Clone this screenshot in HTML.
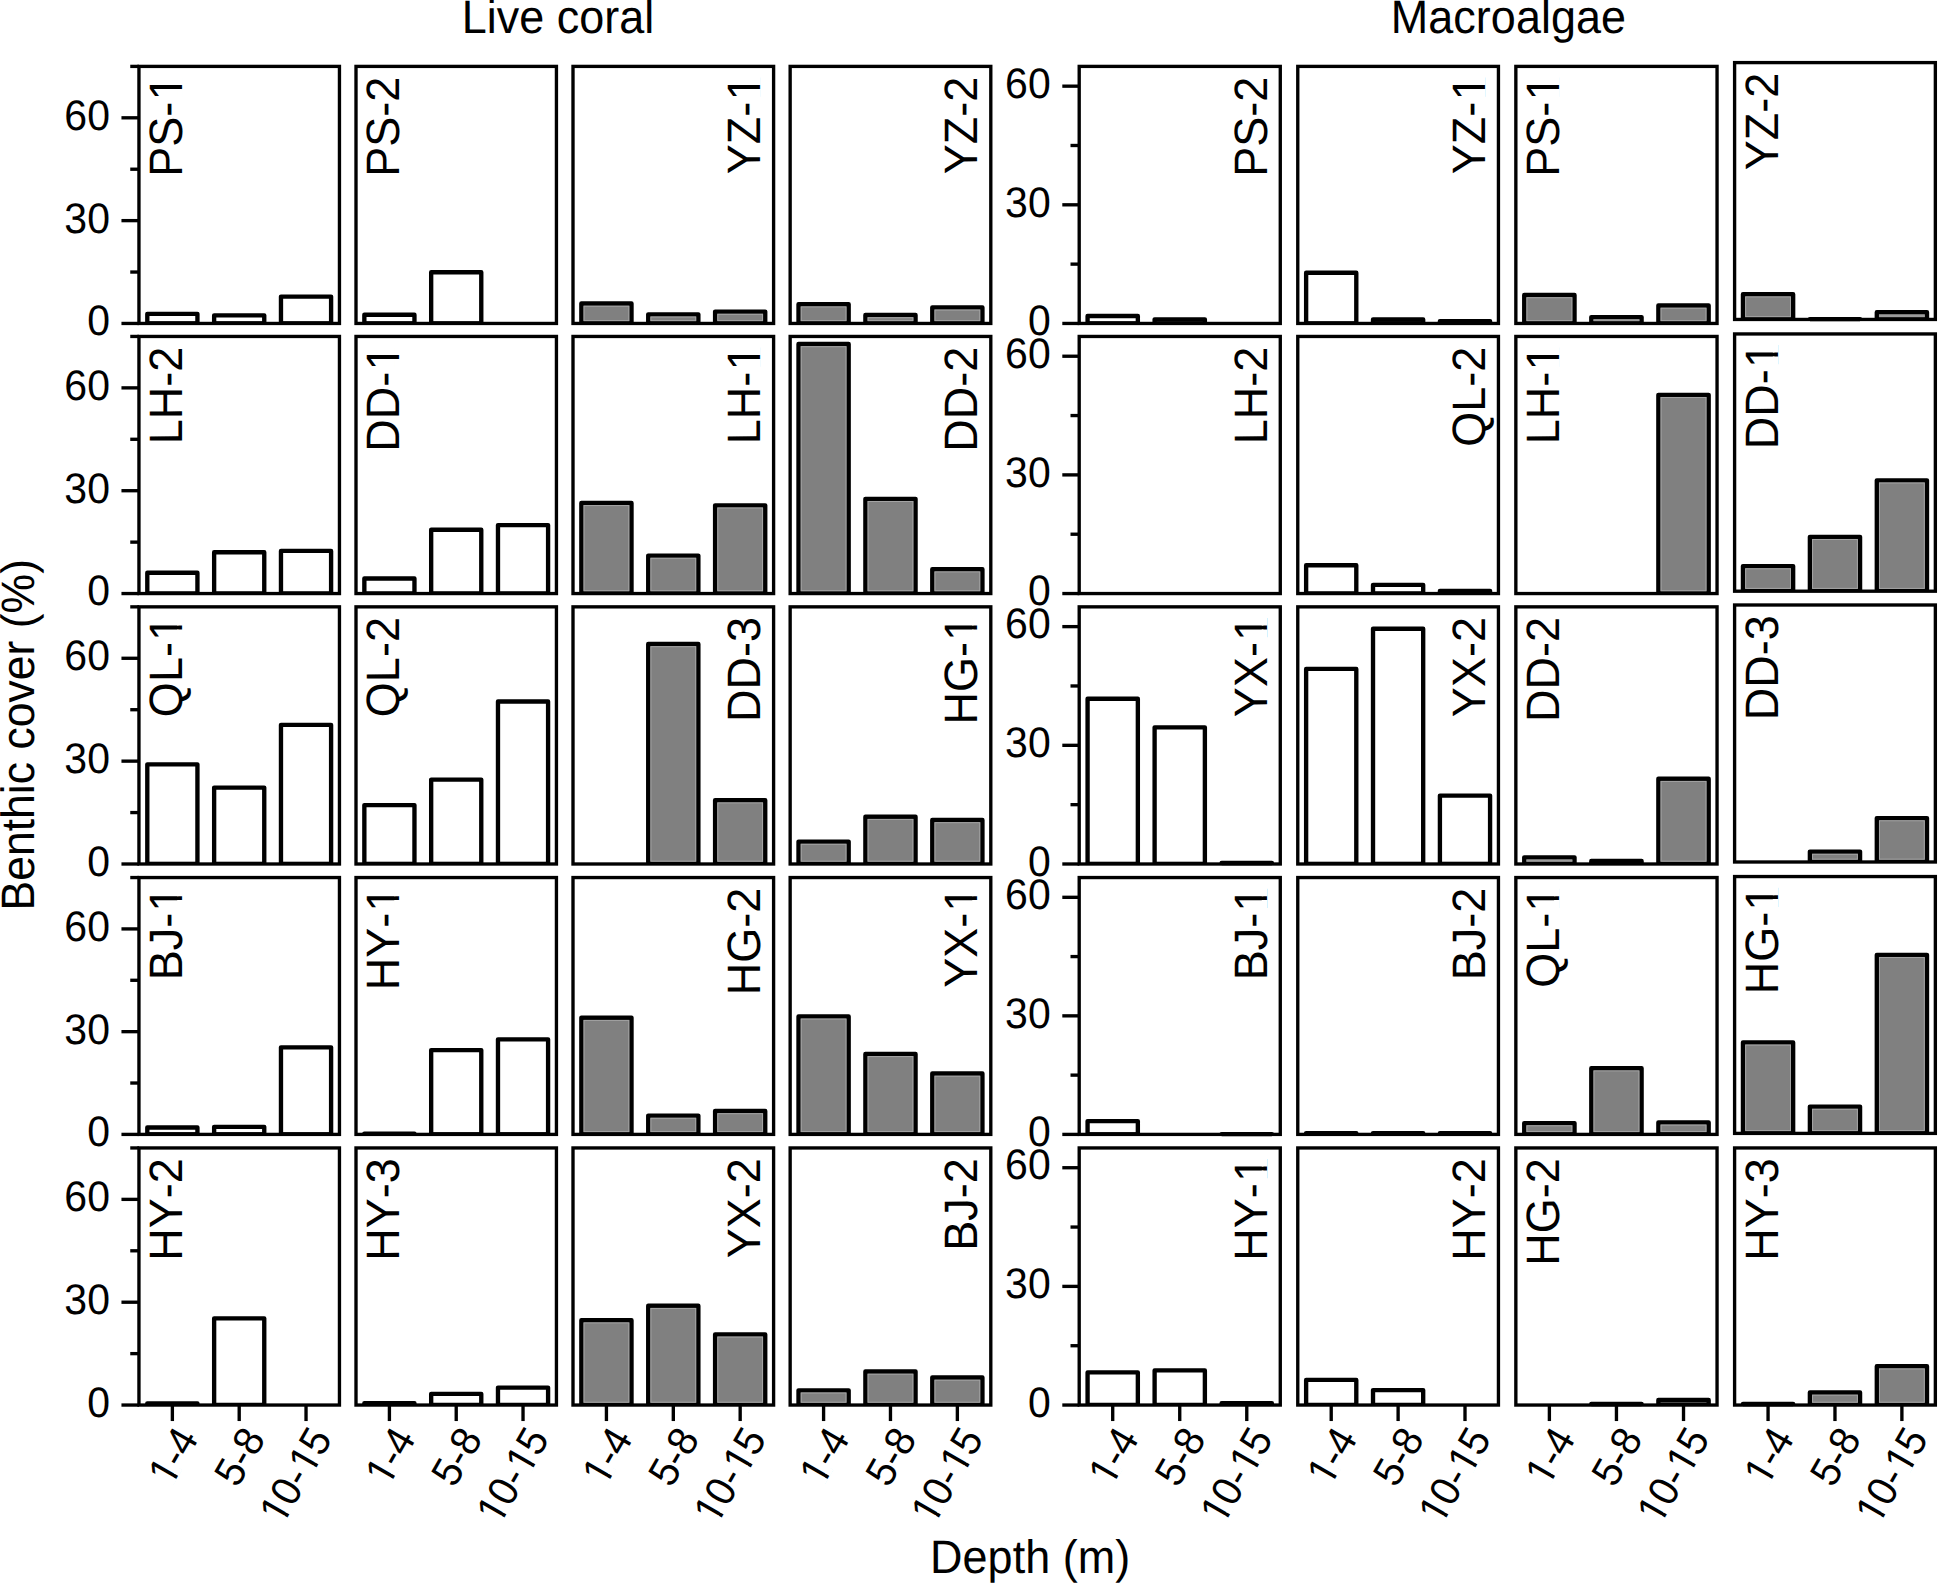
<!DOCTYPE html>
<html lang="en"><head><meta charset="utf-8"><title>Benthic cover by depth</title>
<style>html,body{margin:0;padding:0;background:#fff}svg{display:block}text{font-family:"Liberation Sans",Arial,Helvetica,sans-serif;fill:#000;font-kerning:none;text-rendering:geometricPrecision}.t{font-size:41px}.l{font-size:45px}.x{font-size:40px}.f{fill:none;stroke:#000;stroke-width:3.35;stroke-linecap:butt}.k{stroke:#000;stroke-width:3.35;fill:none}.bw{fill:#fff;stroke:#000;stroke-width:4.35;stroke-linejoin:round}.bg{fill:#808080;stroke:#000;stroke-width:4.35;stroke-linejoin:round}.hl{fill:none;stroke:#a4a4a4;stroke-width:1}</style></head><body>
<svg width="1938" height="1583" viewBox="0 0 1938 1583">
<rect width="1938" height="1583" fill="#fff"/>
<g>
<path class="bw" d="M147.3 323.45V313.8H197.43V323.45"/>
<rect x="147.3" y="321.15" width="50.12" height="2.3" fill="#000"/>
<path class="bw" d="M214.14 323.45V315.3H264.26V323.45"/>
<rect x="214.14" y="321.15" width="50.12" height="2.3" fill="#000"/>
<path class="bw" d="M280.97 323.45V296.6H331.1V323.45"/>
<rect x="280.97" y="321.15" width="50.12" height="2.3" fill="#000"/>
<rect class="f" x="138.95" y="66.4" width="200.5" height="257.05"/>
<line class="k" x1="121.45" y1="323.45" x2="139.05" y2="323.45"/>
<text class="t" transform="translate(109.95 335.35) skewX(0.1) scale(1 1.0405)" x="-22.8">0</text>
<line class="k" x1="130.25" y1="272.04" x2="139.05" y2="272.04"/>
<line class="k" x1="121.45" y1="220.63" x2="139.05" y2="220.63"/>
<text class="t" transform="translate(109.95 232.53) skewX(0.1) scale(1 1.0405)" x="-45.6">30</text>
<line class="k" x1="130.25" y1="169.22" x2="139.05" y2="169.22"/>
<line class="k" x1="121.45" y1="117.81" x2="139.05" y2="117.81"/>
<text class="t" transform="translate(109.95 129.71) skewX(0.1) scale(1 1.0405)" x="-45.6">60</text>
<line class="k" x1="130.25" y1="66.4" x2="139.05" y2="66.4"/>
<g transform="translate(182.05 76.65) rotate(-90) skewX(0.1) scale(1 1.0405)"><text class="l" x="-100.04" dx="0 0 0 1.4">PS-1</text><rect x="-21" y="-4.66" width="8.69" height="5.56" fill="#fff"/><rect x="-8.34" y="-4.66" width="8.34" height="5.56" fill="#fff"/></g>
</g>
<g>
<path class="bw" d="M364.35 323.45V314.7H414.46V323.45"/>
<rect x="364.35" y="321.15" width="50.11" height="2.3" fill="#000"/>
<path class="bw" d="M431.17 323.45V272.2H481.28V323.45"/>
<rect x="431.17" y="321.15" width="50.11" height="2.3" fill="#000"/>
<rect class="f" x="356" y="66.4" width="200.44" height="257.05"/>
<text class="l" transform="translate(399.1 76.65) rotate(-90) skewX(0.1) scale(1 1.0405)" x="-100.04">PS-2</text>
</g>
<g>
<path class="bg" d="M581.36 323.45V303.5H631.51V323.45"/>
<rect x="581.36" y="321.15" width="50.15" height="2.3" fill="#000"/>
<rect class="hl" x="584.03" y="306.18" width="44.8" height="14.47"/>
<path class="bg" d="M648.22 323.45V314.3H698.37V323.45"/>
<rect x="648.22" y="321.15" width="50.15" height="2.3" fill="#000"/>
<rect class="hl" x="650.9" y="316.98" width="44.8" height="3.67"/>
<path class="bg" d="M715.09 323.45V311.6H765.24V323.45"/>
<rect x="715.09" y="321.15" width="50.15" height="2.3" fill="#000"/>
<rect class="hl" x="717.77" y="314.28" width="44.8" height="6.37"/>
<rect class="f" x="573" y="66.4" width="200.6" height="257.05"/>
<g transform="translate(759.9 76.65) rotate(-90) skewX(0.1) scale(1 1.0405)"><text class="l" x="-97.51" dx="0 0 0 1.4">YZ-1</text><rect x="-21" y="-4.66" width="8.69" height="5.56" fill="#fff"/><rect x="-8.34" y="-4.66" width="8.34" height="5.56" fill="#fff"/></g>
</g>
<g>
<path class="bg" d="M798.51 323.45V304.2H848.67V323.45"/>
<rect x="798.51" y="321.15" width="50.16" height="2.3" fill="#000"/>
<rect class="hl" x="801.19" y="306.88" width="44.81" height="13.77"/>
<path class="bg" d="M865.39 323.45V315H915.56V323.45"/>
<rect x="865.39" y="321.15" width="50.16" height="2.3" fill="#000"/>
<rect class="hl" x="868.07" y="317.68" width="44.81" height="2.97"/>
<path class="bg" d="M932.28 323.45V307.4H982.44V323.45"/>
<rect x="932.28" y="321.15" width="50.16" height="2.3" fill="#000"/>
<rect class="hl" x="934.95" y="310.07" width="44.81" height="10.58"/>
<rect class="f" x="790.15" y="66.4" width="200.65" height="257.05"/>
<text class="l" transform="translate(977.1 76.65) rotate(-90) skewX(0.1) scale(1 1.0405)" x="-97.51">YZ-2</text>
</g>
<g>
<path class="bw" d="M1087.58 323.45V316H1137.85V323.45"/>
<rect x="1087.58" y="321.15" width="50.27" height="2.3" fill="#000"/>
<path class="bw" d="M1154.61 323.45V319.3H1204.88V323.45"/>
<rect x="1154.61" y="321.15" width="50.27" height="2.3" fill="#000"/>
<rect class="f" x="1079.2" y="66.4" width="201.08" height="257.05"/>
<line class="k" x1="1062.3" y1="323.45" x2="1079.3" y2="323.45"/>
<text class="t" transform="translate(1050.7 335.15) skewX(0.1) scale(1 1.0405)" x="-22.8">0</text>
<line class="k" x1="1070.5" y1="264.13" x2="1079.3" y2="264.13"/>
<line class="k" x1="1062.3" y1="204.81" x2="1079.3" y2="204.81"/>
<text class="t" transform="translate(1050.7 216.51) skewX(0.1) scale(1 1.0405)" x="-45.6">30</text>
<line class="k" x1="1070.5" y1="145.49" x2="1079.3" y2="145.49"/>
<line class="k" x1="1062.3" y1="86.17" x2="1079.3" y2="86.17"/>
<text class="t" transform="translate(1050.7 97.87) skewX(0.1) scale(1 1.0405)" x="-45.6">60</text>
<text class="l" transform="translate(1266.58 76.65) rotate(-90) skewX(0.1) scale(1 1.0405)" x="-100.04">PS-2</text>
</g>
<g>
<path class="bw" d="M1306.13 323.45V272.7H1356.3V323.45"/>
<rect x="1306.13" y="321.15" width="50.17" height="2.3" fill="#000"/>
<path class="bw" d="M1373.02 323.45V319.5H1423.19V323.45"/>
<rect x="1373.02" y="321.15" width="50.17" height="2.3" fill="#000"/>
<path class="bw" d="M1439.91 323.45V321.05H1490.08V323.45"/>
<rect class="f" x="1297.77" y="66.4" width="200.67" height="257.05"/>
<g transform="translate(1484.74 76.65) rotate(-90) skewX(0.1) scale(1 1.0405)"><text class="l" x="-97.51" dx="0 0 0 1.4">YZ-1</text><rect x="-21" y="-4.66" width="8.69" height="5.56" fill="#fff"/><rect x="-8.34" y="-4.66" width="8.34" height="5.56" fill="#fff"/></g>
</g>
<g>
<path class="bg" d="M1524.23 323.45V295H1574.53V323.45"/>
<rect x="1524.23" y="321.15" width="50.3" height="2.3" fill="#000"/>
<rect class="hl" x="1526.91" y="297.68" width="44.95" height="22.97"/>
<path class="bg" d="M1591.3 323.45V317.1H1641.6V323.45"/>
<rect x="1591.3" y="321.15" width="50.3" height="2.3" fill="#000"/>
<rect x="1593.47" y="319.28" width="45.95" height="1.87" fill="#9c9c9c"/>
<path class="bg" d="M1658.37 323.45V305.5H1708.67V323.45"/>
<rect x="1658.37" y="321.15" width="50.3" height="2.3" fill="#000"/>
<rect class="hl" x="1661.04" y="308.18" width="44.95" height="12.47"/>
<rect class="f" x="1515.85" y="66.4" width="201.2" height="257.05"/>
<g transform="translate(1558.95 76.65) rotate(-90) skewX(0.1) scale(1 1.0405)"><text class="l" x="-100.04" dx="0 0 0 1.4">PS-1</text><rect x="-21" y="-4.66" width="8.69" height="5.56" fill="#fff"/><rect x="-8.34" y="-4.66" width="8.34" height="5.56" fill="#fff"/></g>
</g>
<g>
<path class="bg" d="M1742.96 319.45V294.2H1793.15V319.45"/>
<rect x="1742.96" y="317.15" width="50.19" height="2.3" fill="#000"/>
<rect class="hl" x="1745.64" y="296.88" width="44.84" height="19.77"/>
<path class="bg" d="M1809.88 319.45V319.05H1860.07V319.45"/>
<path class="bg" d="M1876.8 319.45V312.2H1926.99V319.45"/>
<rect x="1876.8" y="317.15" width="50.19" height="2.3" fill="#000"/>
<rect x="1878.97" y="314.38" width="45.84" height="2.78" fill="#9c9c9c"/>
<rect class="f" x="1734.6" y="62.6" width="200.75" height="256.85"/>
<text class="l" transform="translate(1777.7 72.85) rotate(-90) skewX(0.1) scale(1 1.0405)" x="-97.51">YZ-2</text>
</g>
<g>
<path class="bw" d="M147.3 593.55V572.7H197.43V593.55"/>
<rect x="147.3" y="591.25" width="50.12" height="2.3" fill="#000"/>
<path class="bw" d="M214.14 593.55V552.2H264.26V593.55"/>
<rect x="214.14" y="591.25" width="50.12" height="2.3" fill="#000"/>
<path class="bw" d="M280.97 593.55V550.9H331.1V593.55"/>
<rect x="280.97" y="591.25" width="50.12" height="2.3" fill="#000"/>
<rect class="f" x="138.95" y="336.45" width="200.5" height="257.1"/>
<line class="k" x1="121.45" y1="593.55" x2="139.05" y2="593.55"/>
<text class="t" transform="translate(109.95 605.45) skewX(0.1) scale(1 1.0405)" x="-22.8">0</text>
<line class="k" x1="130.25" y1="542.13" x2="139.05" y2="542.13"/>
<line class="k" x1="121.45" y1="490.71" x2="139.05" y2="490.71"/>
<text class="t" transform="translate(109.95 502.61) skewX(0.1) scale(1 1.0405)" x="-45.6">30</text>
<line class="k" x1="130.25" y1="439.29" x2="139.05" y2="439.29"/>
<line class="k" x1="121.45" y1="387.87" x2="139.05" y2="387.87"/>
<text class="t" transform="translate(109.95 399.77) skewX(0.1) scale(1 1.0405)" x="-45.6">60</text>
<line class="k" x1="130.25" y1="336.45" x2="139.05" y2="336.45"/>
<text class="l" transform="translate(182.05 346.7) rotate(-90) skewX(0.1) scale(1 1.0405)" x="-97.54">LH-2</text>
</g>
<g>
<path class="bw" d="M364.35 593.55V578.5H414.46V593.55"/>
<rect x="364.35" y="591.25" width="50.11" height="2.3" fill="#000"/>
<path class="bw" d="M431.17 593.55V529.7H481.28V593.55"/>
<rect x="431.17" y="591.25" width="50.11" height="2.3" fill="#000"/>
<path class="bw" d="M497.98 593.55V525.1H548.09V593.55"/>
<rect x="497.98" y="591.25" width="50.11" height="2.3" fill="#000"/>
<rect class="f" x="356" y="336.45" width="200.44" height="257.1"/>
<g transform="translate(399.1 346.7) rotate(-90) skewX(0.1) scale(1 1.0405)"><text class="l" x="-105.01" dx="0 0 0 1.4">DD-1</text><rect x="-21" y="-4.66" width="8.69" height="5.56" fill="#fff"/><rect x="-8.34" y="-4.66" width="8.34" height="5.56" fill="#fff"/></g>
</g>
<g>
<path class="bg" d="M581.36 593.55V502.9H631.51V593.55"/>
<rect x="581.36" y="591.25" width="50.15" height="2.3" fill="#000"/>
<rect class="hl" x="584.03" y="505.57" width="44.8" height="85.17"/>
<path class="bg" d="M648.22 593.55V555.6H698.37V593.55"/>
<rect x="648.22" y="591.25" width="50.15" height="2.3" fill="#000"/>
<rect class="hl" x="650.9" y="558.27" width="44.8" height="32.47"/>
<path class="bg" d="M715.09 593.55V505.3H765.24V593.55"/>
<rect x="715.09" y="591.25" width="50.15" height="2.3" fill="#000"/>
<rect class="hl" x="717.77" y="507.98" width="44.8" height="82.77"/>
<rect class="f" x="573" y="336.45" width="200.6" height="257.1"/>
<g transform="translate(759.9 346.7) rotate(-90) skewX(0.1) scale(1 1.0405)"><text class="l" x="-97.54" dx="0 0 0 1.4">LH-1</text><rect x="-21" y="-4.66" width="8.69" height="5.56" fill="#fff"/><rect x="-8.34" y="-4.66" width="8.34" height="5.56" fill="#fff"/></g>
</g>
<g>
<path class="bg" d="M798.51 593.55V344H848.67V593.55"/>
<rect x="798.51" y="591.25" width="50.16" height="2.3" fill="#000"/>
<rect class="hl" x="801.19" y="346.68" width="44.81" height="244.07"/>
<path class="bg" d="M865.39 593.55V498.8H915.56V593.55"/>
<rect x="865.39" y="591.25" width="50.16" height="2.3" fill="#000"/>
<rect class="hl" x="868.07" y="501.48" width="44.81" height="89.27"/>
<path class="bg" d="M932.28 593.55V569.2H982.44V593.55"/>
<rect x="932.28" y="591.25" width="50.16" height="2.3" fill="#000"/>
<rect class="hl" x="934.95" y="571.88" width="44.81" height="18.87"/>
<rect class="f" x="790.15" y="336.45" width="200.65" height="257.1"/>
<text class="l" transform="translate(977.1 346.7) rotate(-90) skewX(0.1) scale(1 1.0405)" x="-105.01">DD-2</text>
</g>
<g>
<rect class="f" x="1079.2" y="336.45" width="201.08" height="257.1"/>
<line class="k" x1="1062.3" y1="593.55" x2="1079.3" y2="593.55"/>
<text class="t" transform="translate(1050.7 605.25) skewX(0.1) scale(1 1.0405)" x="-22.8">0</text>
<line class="k" x1="1070.5" y1="534.22" x2="1079.3" y2="534.22"/>
<line class="k" x1="1062.3" y1="474.89" x2="1079.3" y2="474.89"/>
<text class="t" transform="translate(1050.7 486.59) skewX(0.1) scale(1 1.0405)" x="-45.6">30</text>
<line class="k" x1="1070.5" y1="415.56" x2="1079.3" y2="415.56"/>
<line class="k" x1="1062.3" y1="356.23" x2="1079.3" y2="356.23"/>
<text class="t" transform="translate(1050.7 367.93) skewX(0.1) scale(1 1.0405)" x="-45.6">60</text>
<text class="l" transform="translate(1266.58 346.7) rotate(-90) skewX(0.1) scale(1 1.0405)" x="-97.54">LH-2</text>
</g>
<g>
<path class="bw" d="M1306.13 593.55V565.2H1356.3V593.55"/>
<rect x="1306.13" y="591.25" width="50.17" height="2.3" fill="#000"/>
<path class="bw" d="M1373.02 593.55V584.8H1423.19V593.55"/>
<rect x="1373.02" y="591.25" width="50.17" height="2.3" fill="#000"/>
<path class="bw" d="M1439.91 593.55V590.8H1490.08V593.55"/>
<rect class="f" x="1297.77" y="336.45" width="200.67" height="257.1"/>
<text class="l" transform="translate(1484.74 346.7) rotate(-90) skewX(0.1) scale(1 1.0405)" x="-100.04">QL-2</text>
</g>
<g>
<path class="bg" d="M1658.37 593.55V394.8H1708.67V593.55"/>
<rect x="1658.37" y="591.25" width="50.3" height="2.3" fill="#000"/>
<rect class="hl" x="1661.04" y="397.48" width="44.95" height="193.27"/>
<rect class="f" x="1515.85" y="336.45" width="201.2" height="257.1"/>
<g transform="translate(1558.95 346.7) rotate(-90) skewX(0.1) scale(1 1.0405)"><text class="l" x="-97.54" dx="0 0 0 1.4">LH-1</text><rect x="-21" y="-4.66" width="8.69" height="5.56" fill="#fff"/><rect x="-8.34" y="-4.66" width="8.34" height="5.56" fill="#fff"/></g>
</g>
<g>
<path class="bg" d="M1742.96 591.2V566.1H1793.15V591.2"/>
<rect x="1742.96" y="588.9" width="50.19" height="2.3" fill="#000"/>
<rect class="hl" x="1745.64" y="568.77" width="44.84" height="19.62"/>
<path class="bg" d="M1809.88 591.2V536.8H1860.07V591.2"/>
<rect x="1809.88" y="588.9" width="50.19" height="2.3" fill="#000"/>
<rect class="hl" x="1812.56" y="539.47" width="44.84" height="48.92"/>
<path class="bg" d="M1876.8 591.2V480.3H1926.99V591.2"/>
<rect x="1876.8" y="588.9" width="50.19" height="2.3" fill="#000"/>
<rect class="hl" x="1879.47" y="482.98" width="44.84" height="105.42"/>
<rect class="f" x="1734.6" y="333.95" width="200.75" height="257.25"/>
<g transform="translate(1777.7 344.2) rotate(-90) skewX(0.1) scale(1 1.0405)"><text class="l" x="-105.01" dx="0 0 0 1.4">DD-1</text><rect x="-21" y="-4.66" width="8.69" height="5.56" fill="#fff"/><rect x="-8.34" y="-4.66" width="8.34" height="5.56" fill="#fff"/></g>
</g>
<g>
<path class="bw" d="M147.3 864V764.3H197.43V864"/>
<rect x="147.3" y="861.7" width="50.12" height="2.3" fill="#000"/>
<path class="bw" d="M214.14 864V787.6H264.26V864"/>
<rect x="214.14" y="861.7" width="50.12" height="2.3" fill="#000"/>
<path class="bw" d="M280.97 864V724.8H331.1V864"/>
<rect x="280.97" y="861.7" width="50.12" height="2.3" fill="#000"/>
<rect class="f" x="138.95" y="606.85" width="200.5" height="257.15"/>
<line class="k" x1="121.45" y1="864" x2="139.05" y2="864"/>
<text class="t" transform="translate(109.95 875.9) skewX(0.1) scale(1 1.0405)" x="-22.8">0</text>
<line class="k" x1="130.25" y1="812.57" x2="139.05" y2="812.57"/>
<line class="k" x1="121.45" y1="761.14" x2="139.05" y2="761.14"/>
<text class="t" transform="translate(109.95 773.04) skewX(0.1) scale(1 1.0405)" x="-45.6">30</text>
<line class="k" x1="130.25" y1="709.71" x2="139.05" y2="709.71"/>
<line class="k" x1="121.45" y1="658.28" x2="139.05" y2="658.28"/>
<text class="t" transform="translate(109.95 670.18) skewX(0.1) scale(1 1.0405)" x="-45.6">60</text>
<line class="k" x1="130.25" y1="606.85" x2="139.05" y2="606.85"/>
<g transform="translate(182.05 617.1) rotate(-90) skewX(0.1) scale(1 1.0405)"><text class="l" x="-100.04" dx="0 0 0 1.4">QL-1</text><rect x="-21" y="-4.66" width="8.69" height="5.56" fill="#fff"/><rect x="-8.34" y="-4.66" width="8.34" height="5.56" fill="#fff"/></g>
</g>
<g>
<path class="bw" d="M364.35 864V805.1H414.46V864"/>
<rect x="364.35" y="861.7" width="50.11" height="2.3" fill="#000"/>
<path class="bw" d="M431.17 864V779.6H481.28V864"/>
<rect x="431.17" y="861.7" width="50.11" height="2.3" fill="#000"/>
<path class="bw" d="M497.98 864V701.5H548.09V864"/>
<rect x="497.98" y="861.7" width="50.11" height="2.3" fill="#000"/>
<rect class="f" x="356" y="606.85" width="200.44" height="257.15"/>
<text class="l" transform="translate(399.1 617.1) rotate(-90) skewX(0.1) scale(1 1.0405)" x="-100.04">QL-2</text>
</g>
<g>
<path class="bg" d="M648.22 864V644H698.37V864"/>
<rect x="648.22" y="861.7" width="50.15" height="2.3" fill="#000"/>
<rect class="hl" x="650.9" y="646.67" width="44.8" height="214.52"/>
<path class="bg" d="M715.09 864V800.2H765.24V864"/>
<rect x="715.09" y="861.7" width="50.15" height="2.3" fill="#000"/>
<rect class="hl" x="717.77" y="802.88" width="44.8" height="58.32"/>
<rect class="f" x="573" y="606.85" width="200.6" height="257.15"/>
<text class="l" transform="translate(759.9 617.1) rotate(-90) skewX(0.1) scale(1 1.0405)" x="-105.01">DD-3</text>
</g>
<g>
<path class="bg" d="M798.51 864V841.6H848.67V864"/>
<rect x="798.51" y="861.7" width="50.16" height="2.3" fill="#000"/>
<rect class="hl" x="801.19" y="844.27" width="44.81" height="16.92"/>
<path class="bg" d="M865.39 864V816.7H915.56V864"/>
<rect x="865.39" y="861.7" width="50.16" height="2.3" fill="#000"/>
<rect class="hl" x="868.07" y="819.38" width="44.81" height="41.82"/>
<path class="bg" d="M932.28 864V820H982.44V864"/>
<rect x="932.28" y="861.7" width="50.16" height="2.3" fill="#000"/>
<rect class="hl" x="934.95" y="822.67" width="44.81" height="38.53"/>
<rect class="f" x="790.15" y="606.85" width="200.65" height="257.15"/>
<g transform="translate(977.1 617.1) rotate(-90) skewX(0.1) scale(1 1.0405)"><text class="l" x="-107.51" dx="0 0 0 1.4">HG-1</text><rect x="-21" y="-4.66" width="8.69" height="5.56" fill="#fff"/><rect x="-8.34" y="-4.66" width="8.34" height="5.56" fill="#fff"/></g>
</g>
<g>
<path class="bw" d="M1087.58 864V698.7H1137.85V864"/>
<rect x="1087.58" y="861.7" width="50.27" height="2.3" fill="#000"/>
<path class="bw" d="M1154.61 864V727.3H1204.88V864"/>
<rect x="1154.61" y="861.7" width="50.27" height="2.3" fill="#000"/>
<path class="bw" d="M1221.63 864V862.95H1271.9V864"/>
<rect class="f" x="1079.2" y="606.85" width="201.08" height="257.15"/>
<line class="k" x1="1062.3" y1="864" x2="1079.3" y2="864"/>
<text class="t" transform="translate(1050.7 875.7) skewX(0.1) scale(1 1.0405)" x="-22.8">0</text>
<line class="k" x1="1070.5" y1="804.66" x2="1079.3" y2="804.66"/>
<line class="k" x1="1062.3" y1="745.32" x2="1079.3" y2="745.32"/>
<text class="t" transform="translate(1050.7 757.02) skewX(0.1) scale(1 1.0405)" x="-45.6">30</text>
<line class="k" x1="1070.5" y1="685.97" x2="1079.3" y2="685.97"/>
<line class="k" x1="1062.3" y1="626.63" x2="1079.3" y2="626.63"/>
<text class="t" transform="translate(1050.7 638.33) skewX(0.1) scale(1 1.0405)" x="-45.6">60</text>
<g transform="translate(1266.58 617.1) rotate(-90) skewX(0.1) scale(1 1.0405)"><text class="l" x="-100.04" dx="0 0 0 1.4">YX-1</text><rect x="-21" y="-4.66" width="8.69" height="5.56" fill="#fff"/><rect x="-8.34" y="-4.66" width="8.34" height="5.56" fill="#fff"/></g>
</g>
<g>
<path class="bw" d="M1306.13 864V668.9H1356.3V864"/>
<rect x="1306.13" y="861.7" width="50.17" height="2.3" fill="#000"/>
<path class="bw" d="M1373.02 864V628.7H1423.19V864"/>
<rect x="1373.02" y="861.7" width="50.17" height="2.3" fill="#000"/>
<path class="bw" d="M1439.91 864V795.6H1490.08V864"/>
<rect x="1439.91" y="861.7" width="50.17" height="2.3" fill="#000"/>
<rect class="f" x="1297.77" y="606.85" width="200.67" height="257.15"/>
<text class="l" transform="translate(1484.74 617.1) rotate(-90) skewX(0.1) scale(1 1.0405)" x="-100.04">YX-2</text>
</g>
<g>
<path class="bg" d="M1524.23 864V857.3H1574.53V864"/>
<rect x="1524.23" y="861.7" width="50.3" height="2.3" fill="#000"/>
<rect x="1526.41" y="859.47" width="45.95" height="2.23" fill="#9c9c9c"/>
<path class="bg" d="M1591.3 864V861H1641.6V864"/>
<path class="bg" d="M1658.37 864V778.7H1708.67V864"/>
<rect x="1658.37" y="861.7" width="50.3" height="2.3" fill="#000"/>
<rect class="hl" x="1661.04" y="781.38" width="44.95" height="79.82"/>
<rect class="f" x="1515.85" y="606.85" width="201.2" height="257.15"/>
<text class="l" transform="translate(1558.95 617.1) rotate(-90) skewX(0.1) scale(1 1.0405)" x="-105.01">DD-2</text>
</g>
<g>
<path class="bg" d="M1809.88 862V851.6H1860.07V862"/>
<rect x="1809.88" y="859.7" width="50.19" height="2.3" fill="#000"/>
<rect class="hl" x="1812.56" y="854.27" width="44.84" height="4.92"/>
<path class="bg" d="M1876.8 862V818.1H1926.99V862"/>
<rect x="1876.8" y="859.7" width="50.19" height="2.3" fill="#000"/>
<rect class="hl" x="1879.47" y="820.77" width="44.84" height="38.42"/>
<rect class="f" x="1734.6" y="605" width="200.75" height="257"/>
<text class="l" transform="translate(1777.7 615.25) rotate(-90) skewX(0.1) scale(1 1.0405)" x="-105.01">DD-3</text>
</g>
<g>
<path class="bw" d="M147.3 1134.4V1127.5H197.43V1134.4"/>
<rect x="147.3" y="1132.1" width="50.12" height="2.3" fill="#000"/>
<path class="bw" d="M214.14 1134.4V1126.8H264.26V1134.4"/>
<rect x="214.14" y="1132.1" width="50.12" height="2.3" fill="#000"/>
<path class="bw" d="M280.97 1134.4V1047.3H331.1V1134.4"/>
<rect x="280.97" y="1132.1" width="50.12" height="2.3" fill="#000"/>
<rect class="f" x="138.95" y="877.55" width="200.5" height="256.85"/>
<line class="k" x1="121.45" y1="1134.4" x2="139.05" y2="1134.4"/>
<text class="t" transform="translate(109.95 1146.3) skewX(0.1) scale(1 1.0405)" x="-22.8">0</text>
<line class="k" x1="130.25" y1="1083.03" x2="139.05" y2="1083.03"/>
<line class="k" x1="121.45" y1="1031.66" x2="139.05" y2="1031.66"/>
<text class="t" transform="translate(109.95 1043.56) skewX(0.1) scale(1 1.0405)" x="-45.6">30</text>
<line class="k" x1="130.25" y1="980.29" x2="139.05" y2="980.29"/>
<line class="k" x1="121.45" y1="928.92" x2="139.05" y2="928.92"/>
<text class="t" transform="translate(109.95 940.82) skewX(0.1) scale(1 1.0405)" x="-45.6">60</text>
<line class="k" x1="130.25" y1="877.55" x2="139.05" y2="877.55"/>
<g transform="translate(182.05 887.8) rotate(-90) skewX(0.1) scale(1 1.0405)"><text class="l" x="-92.53" dx="0 0 0 1.4">BJ-1</text><rect x="-21" y="-4.66" width="8.69" height="5.56" fill="#fff"/><rect x="-8.34" y="-4.66" width="8.34" height="5.56" fill="#fff"/></g>
</g>
<g>
<path class="bw" d="M364.35 1134.4V1133.7H414.46V1134.4"/>
<path class="bw" d="M431.17 1134.4V1050.1H481.28V1134.4"/>
<rect x="431.17" y="1132.1" width="50.11" height="2.3" fill="#000"/>
<path class="bw" d="M497.98 1134.4V1039.3H548.09V1134.4"/>
<rect x="497.98" y="1132.1" width="50.11" height="2.3" fill="#000"/>
<rect class="f" x="356" y="877.55" width="200.44" height="256.85"/>
<g transform="translate(399.1 887.8) rotate(-90) skewX(0.1) scale(1 1.0405)"><text class="l" x="-102.52" dx="0 0 0 1.4">HY-1</text><rect x="-21" y="-4.66" width="8.69" height="5.56" fill="#fff"/><rect x="-8.34" y="-4.66" width="8.34" height="5.56" fill="#fff"/></g>
</g>
<g>
<path class="bg" d="M581.36 1134.4V1017.7H631.51V1134.4"/>
<rect x="581.36" y="1132.1" width="50.15" height="2.3" fill="#000"/>
<rect class="hl" x="584.03" y="1020.38" width="44.8" height="111.23"/>
<path class="bg" d="M648.22 1134.4V1115.6H698.37V1134.4"/>
<rect x="648.22" y="1132.1" width="50.15" height="2.3" fill="#000"/>
<rect class="hl" x="650.9" y="1118.27" width="44.8" height="13.33"/>
<path class="bg" d="M715.09 1134.4V1111H765.24V1134.4"/>
<rect x="715.09" y="1132.1" width="50.15" height="2.3" fill="#000"/>
<rect class="hl" x="717.77" y="1113.67" width="44.8" height="17.93"/>
<rect class="f" x="573" y="877.55" width="200.6" height="256.85"/>
<text class="l" transform="translate(759.9 887.8) rotate(-90) skewX(0.1) scale(1 1.0405)" x="-107.51">HG-2</text>
</g>
<g>
<path class="bg" d="M798.51 1134.4V1016.4H848.67V1134.4"/>
<rect x="798.51" y="1132.1" width="50.16" height="2.3" fill="#000"/>
<rect class="hl" x="801.19" y="1019.07" width="44.81" height="112.53"/>
<path class="bg" d="M865.39 1134.4V1053.9H915.56V1134.4"/>
<rect x="865.39" y="1132.1" width="50.16" height="2.3" fill="#000"/>
<rect class="hl" x="868.07" y="1056.58" width="44.81" height="75.03"/>
<path class="bg" d="M932.28 1134.4V1073.5H982.44V1134.4"/>
<rect x="932.28" y="1132.1" width="50.16" height="2.3" fill="#000"/>
<rect class="hl" x="934.95" y="1076.17" width="44.81" height="55.43"/>
<rect class="f" x="790.15" y="877.55" width="200.65" height="256.85"/>
<g transform="translate(977.1 887.8) rotate(-90) skewX(0.1) scale(1 1.0405)"><text class="l" x="-100.04" dx="0 0 0 1.4">YX-1</text><rect x="-21" y="-4.66" width="8.69" height="5.56" fill="#fff"/><rect x="-8.34" y="-4.66" width="8.34" height="5.56" fill="#fff"/></g>
</g>
<g>
<path class="bw" d="M1087.58 1134.4V1121.1H1137.85V1134.4"/>
<rect x="1087.58" y="1132.1" width="50.27" height="2.3" fill="#000"/>
<path class="bw" d="M1221.63 1134.4V1134.1H1271.9V1134.4"/>
<rect class="f" x="1079.2" y="877.55" width="201.08" height="256.85"/>
<line class="k" x1="1062.3" y1="1134.4" x2="1079.3" y2="1134.4"/>
<text class="t" transform="translate(1050.7 1146.1) skewX(0.1) scale(1 1.0405)" x="-22.8">0</text>
<line class="k" x1="1070.5" y1="1075.13" x2="1079.3" y2="1075.13"/>
<line class="k" x1="1062.3" y1="1015.85" x2="1079.3" y2="1015.85"/>
<text class="t" transform="translate(1050.7 1027.55) skewX(0.1) scale(1 1.0405)" x="-45.6">30</text>
<line class="k" x1="1070.5" y1="956.58" x2="1079.3" y2="956.58"/>
<line class="k" x1="1062.3" y1="897.31" x2="1079.3" y2="897.31"/>
<text class="t" transform="translate(1050.7 909.01) skewX(0.1) scale(1 1.0405)" x="-45.6">60</text>
<g transform="translate(1266.58 887.8) rotate(-90) skewX(0.1) scale(1 1.0405)"><text class="l" x="-92.53" dx="0 0 0 1.4">BJ-1</text><rect x="-21" y="-4.66" width="8.69" height="5.56" fill="#fff"/><rect x="-8.34" y="-4.66" width="8.34" height="5.56" fill="#fff"/></g>
</g>
<g>
<path class="bw" d="M1306.13 1134.4V1133.1H1356.3V1134.4"/>
<path class="bw" d="M1373.02 1134.4V1133.1H1423.19V1134.4"/>
<path class="bw" d="M1439.91 1134.4V1133.1H1490.08V1134.4"/>
<rect class="f" x="1297.77" y="877.55" width="200.67" height="256.85"/>
<text class="l" transform="translate(1484.74 887.8) rotate(-90) skewX(0.1) scale(1 1.0405)" x="-92.53">BJ-2</text>
</g>
<g>
<path class="bg" d="M1524.23 1134.4V1123.1H1574.53V1134.4"/>
<rect x="1524.23" y="1132.1" width="50.3" height="2.3" fill="#000"/>
<rect class="hl" x="1526.91" y="1125.77" width="44.95" height="5.83"/>
<path class="bg" d="M1591.3 1134.4V1068.2H1641.6V1134.4"/>
<rect x="1591.3" y="1132.1" width="50.3" height="2.3" fill="#000"/>
<rect class="hl" x="1593.97" y="1070.88" width="44.95" height="60.73"/>
<path class="bg" d="M1658.37 1134.4V1122.4H1708.67V1134.4"/>
<rect x="1658.37" y="1132.1" width="50.3" height="2.3" fill="#000"/>
<rect class="hl" x="1661.04" y="1125.08" width="44.95" height="6.52"/>
<rect class="f" x="1515.85" y="877.55" width="201.2" height="256.85"/>
<g transform="translate(1558.95 887.8) rotate(-90) skewX(0.1) scale(1 1.0405)"><text class="l" x="-100.04" dx="0 0 0 1.4">QL-1</text><rect x="-21" y="-4.66" width="8.69" height="5.56" fill="#fff"/><rect x="-8.34" y="-4.66" width="8.34" height="5.56" fill="#fff"/></g>
</g>
<g>
<path class="bg" d="M1742.96 1133.4V1042.4H1793.15V1133.4"/>
<rect x="1742.96" y="1131.1" width="50.19" height="2.3" fill="#000"/>
<rect class="hl" x="1745.64" y="1045.08" width="44.84" height="85.53"/>
<path class="bg" d="M1809.88 1133.4V1106.6H1860.07V1133.4"/>
<rect x="1809.88" y="1131.1" width="50.19" height="2.3" fill="#000"/>
<rect class="hl" x="1812.56" y="1109.27" width="44.84" height="21.33"/>
<path class="bg" d="M1876.8 1133.4V954.8H1926.99V1133.4"/>
<rect x="1876.8" y="1131.1" width="50.19" height="2.3" fill="#000"/>
<rect class="hl" x="1879.47" y="957.47" width="44.84" height="173.13"/>
<rect class="f" x="1734.6" y="876.55" width="200.75" height="256.85"/>
<g transform="translate(1777.7 886.8) rotate(-90) skewX(0.1) scale(1 1.0405)"><text class="l" x="-107.51" dx="0 0 0 1.4">HG-1</text><rect x="-21" y="-4.66" width="8.69" height="5.56" fill="#fff"/><rect x="-8.34" y="-4.66" width="8.34" height="5.56" fill="#fff"/></g>
</g>
<g>
<path class="bw" d="M147.3 1405.05V1403.35H197.43V1405.05"/>
<path class="bw" d="M214.14 1405.05V1318.3H264.26V1405.05"/>
<rect x="214.14" y="1402.75" width="50.12" height="2.3" fill="#000"/>
<rect class="f" x="138.95" y="1147.95" width="200.5" height="257.1"/>
<line class="k" x1="121.45" y1="1405.05" x2="139.05" y2="1405.05"/>
<text class="t" transform="translate(109.95 1416.95) skewX(0.1) scale(1 1.0405)" x="-22.8">0</text>
<line class="k" x1="130.25" y1="1353.63" x2="139.05" y2="1353.63"/>
<line class="k" x1="121.45" y1="1302.21" x2="139.05" y2="1302.21"/>
<text class="t" transform="translate(109.95 1314.11) skewX(0.1) scale(1 1.0405)" x="-45.6">30</text>
<line class="k" x1="130.25" y1="1250.79" x2="139.05" y2="1250.79"/>
<line class="k" x1="121.45" y1="1199.37" x2="139.05" y2="1199.37"/>
<text class="t" transform="translate(109.95 1211.27) skewX(0.1) scale(1 1.0405)" x="-45.6">60</text>
<line class="k" x1="130.25" y1="1147.95" x2="139.05" y2="1147.95"/>
<line class="k" x1="172.37" y1="1405.05" x2="172.37" y2="1421.05"/>
<g transform="translate(199.47 1438.6) rotate(-60) skewX(0.1) scale(1 1.0405)"><text class="x" x="-57.81" dx="1.24 -1.24 0">1-4</text><rect x="-54.33" y="-4.29" width="7.81" height="5.19" fill="#fff"/><rect x="-42.98" y="-4.29" width="7.5" height="5.19" fill="#fff"/></g>
<line class="k" x1="239.2" y1="1405.05" x2="239.2" y2="1421.05"/>
<text class="x" transform="translate(266.3 1438.6) rotate(-60) skewX(0.1) scale(1 1.0405)" x="-57.81">5-8</text>
<line class="k" x1="306.03" y1="1405.05" x2="306.03" y2="1421.05"/>
<g transform="translate(333.13 1438.6) rotate(-60) skewX(0.1) scale(1 1.0405)"><text class="x" x="-102.3" dx="1.24 -1.24 0 1.24 -1.24">10-15</text><rect x="-98.82" y="-4.29" width="7.81" height="5.19" fill="#fff"/><rect x="-87.47" y="-4.29" width="7.5" height="5.19" fill="#fff"/><rect x="-41.01" y="-4.29" width="7.81" height="5.19" fill="#fff"/><rect x="-29.66" y="-4.29" width="7.5" height="5.19" fill="#fff"/></g>
<text class="l" transform="translate(182.05 1158.2) rotate(-90) skewX(0.1) scale(1 1.0405)" x="-102.52">HY-2</text>
</g>
<g>
<path class="bw" d="M364.35 1405.05V1403.25H414.46V1405.05"/>
<path class="bw" d="M431.17 1405.05V1393.8H481.28V1405.05"/>
<rect x="431.17" y="1402.75" width="50.11" height="2.3" fill="#000"/>
<path class="bw" d="M497.98 1405.05V1387.6H548.09V1405.05"/>
<rect x="497.98" y="1402.75" width="50.11" height="2.3" fill="#000"/>
<rect class="f" x="356" y="1147.95" width="200.44" height="257.1"/>
<line class="k" x1="389.41" y1="1405.05" x2="389.41" y2="1421.05"/>
<g transform="translate(416.51 1438.6) rotate(-60) skewX(0.1) scale(1 1.0405)"><text class="x" x="-57.81" dx="1.24 -1.24 0">1-4</text><rect x="-54.33" y="-4.29" width="7.81" height="5.19" fill="#fff"/><rect x="-42.98" y="-4.29" width="7.5" height="5.19" fill="#fff"/></g>
<line class="k" x1="456.22" y1="1405.05" x2="456.22" y2="1421.05"/>
<text class="x" transform="translate(483.32 1438.6) rotate(-60) skewX(0.1) scale(1 1.0405)" x="-57.81">5-8</text>
<line class="k" x1="523.03" y1="1405.05" x2="523.03" y2="1421.05"/>
<g transform="translate(550.13 1438.6) rotate(-60) skewX(0.1) scale(1 1.0405)"><text class="x" x="-102.3" dx="1.24 -1.24 0 1.24 -1.24">10-15</text><rect x="-98.82" y="-4.29" width="7.81" height="5.19" fill="#fff"/><rect x="-87.47" y="-4.29" width="7.5" height="5.19" fill="#fff"/><rect x="-41.01" y="-4.29" width="7.81" height="5.19" fill="#fff"/><rect x="-29.66" y="-4.29" width="7.5" height="5.19" fill="#fff"/></g>
<text class="l" transform="translate(399.1 1158.2) rotate(-90) skewX(0.1) scale(1 1.0405)" x="-102.52">HY-3</text>
</g>
<g>
<path class="bg" d="M581.36 1405.05V1320.2H631.51V1405.05"/>
<rect x="581.36" y="1402.75" width="50.15" height="2.3" fill="#000"/>
<rect class="hl" x="584.03" y="1322.88" width="44.8" height="79.37"/>
<path class="bg" d="M648.22 1405.05V1305.7H698.37V1405.05"/>
<rect x="648.22" y="1402.75" width="50.15" height="2.3" fill="#000"/>
<rect class="hl" x="650.9" y="1308.38" width="44.8" height="93.87"/>
<path class="bg" d="M715.09 1405.05V1334.4H765.24V1405.05"/>
<rect x="715.09" y="1402.75" width="50.15" height="2.3" fill="#000"/>
<rect class="hl" x="717.77" y="1337.08" width="44.8" height="65.17"/>
<rect class="f" x="573" y="1147.95" width="200.6" height="257.1"/>
<line class="k" x1="606.43" y1="1405.05" x2="606.43" y2="1421.05"/>
<g transform="translate(633.53 1438.6) rotate(-60) skewX(0.1) scale(1 1.0405)"><text class="x" x="-57.81" dx="1.24 -1.24 0">1-4</text><rect x="-54.33" y="-4.29" width="7.81" height="5.19" fill="#fff"/><rect x="-42.98" y="-4.29" width="7.5" height="5.19" fill="#fff"/></g>
<line class="k" x1="673.3" y1="1405.05" x2="673.3" y2="1421.05"/>
<text class="x" transform="translate(700.4 1438.6) rotate(-60) skewX(0.1) scale(1 1.0405)" x="-57.81">5-8</text>
<line class="k" x1="740.17" y1="1405.05" x2="740.17" y2="1421.05"/>
<g transform="translate(767.27 1438.6) rotate(-60) skewX(0.1) scale(1 1.0405)"><text class="x" x="-102.3" dx="1.24 -1.24 0 1.24 -1.24">10-15</text><rect x="-98.82" y="-4.29" width="7.81" height="5.19" fill="#fff"/><rect x="-87.47" y="-4.29" width="7.5" height="5.19" fill="#fff"/><rect x="-41.01" y="-4.29" width="7.81" height="5.19" fill="#fff"/><rect x="-29.66" y="-4.29" width="7.5" height="5.19" fill="#fff"/></g>
<text class="l" transform="translate(759.9 1158.2) rotate(-90) skewX(0.1) scale(1 1.0405)" x="-100.04">YX-2</text>
</g>
<g>
<path class="bg" d="M798.51 1405.05V1390.3H848.67V1405.05"/>
<rect x="798.51" y="1402.75" width="50.16" height="2.3" fill="#000"/>
<rect class="hl" x="801.19" y="1392.97" width="44.81" height="9.27"/>
<path class="bg" d="M865.39 1405.05V1371.5H915.56V1405.05"/>
<rect x="865.39" y="1402.75" width="50.16" height="2.3" fill="#000"/>
<rect class="hl" x="868.07" y="1374.17" width="44.81" height="28.07"/>
<path class="bg" d="M932.28 1405.05V1377.5H982.44V1405.05"/>
<rect x="932.28" y="1402.75" width="50.16" height="2.3" fill="#000"/>
<rect class="hl" x="934.95" y="1380.17" width="44.81" height="22.07"/>
<rect class="f" x="790.15" y="1147.95" width="200.65" height="257.1"/>
<line class="k" x1="823.59" y1="1405.05" x2="823.59" y2="1421.05"/>
<g transform="translate(850.69 1438.6) rotate(-60) skewX(0.1) scale(1 1.0405)"><text class="x" x="-57.81" dx="1.24 -1.24 0">1-4</text><rect x="-54.33" y="-4.29" width="7.81" height="5.19" fill="#fff"/><rect x="-42.98" y="-4.29" width="7.5" height="5.19" fill="#fff"/></g>
<line class="k" x1="890.47" y1="1405.05" x2="890.47" y2="1421.05"/>
<text class="x" transform="translate(917.57 1438.6) rotate(-60) skewX(0.1) scale(1 1.0405)" x="-57.81">5-8</text>
<line class="k" x1="957.36" y1="1405.05" x2="957.36" y2="1421.05"/>
<g transform="translate(984.46 1438.6) rotate(-60) skewX(0.1) scale(1 1.0405)"><text class="x" x="-102.3" dx="1.24 -1.24 0 1.24 -1.24">10-15</text><rect x="-98.82" y="-4.29" width="7.81" height="5.19" fill="#fff"/><rect x="-87.47" y="-4.29" width="7.5" height="5.19" fill="#fff"/><rect x="-41.01" y="-4.29" width="7.81" height="5.19" fill="#fff"/><rect x="-29.66" y="-4.29" width="7.5" height="5.19" fill="#fff"/></g>
<text class="l" transform="translate(977.1 1158.2) rotate(-90) skewX(0.1) scale(1 1.0405)" x="-92.53">BJ-2</text>
</g>
<g>
<path class="bw" d="M1087.58 1405.05V1372.4H1137.85V1405.05"/>
<rect x="1087.58" y="1402.75" width="50.27" height="2.3" fill="#000"/>
<path class="bw" d="M1154.61 1405.05V1370.4H1204.88V1405.05"/>
<rect x="1154.61" y="1402.75" width="50.27" height="2.3" fill="#000"/>
<path class="bw" d="M1221.63 1405.05V1403.25H1271.9V1405.05"/>
<rect class="f" x="1079.2" y="1147.95" width="201.08" height="257.1"/>
<line class="k" x1="1062.3" y1="1405.05" x2="1079.3" y2="1405.05"/>
<text class="t" transform="translate(1050.7 1416.75) skewX(0.1) scale(1 1.0405)" x="-22.8">0</text>
<line class="k" x1="1070.5" y1="1345.72" x2="1079.3" y2="1345.72"/>
<line class="k" x1="1062.3" y1="1286.39" x2="1079.3" y2="1286.39"/>
<text class="t" transform="translate(1050.7 1298.09) skewX(0.1) scale(1 1.0405)" x="-45.6">30</text>
<line class="k" x1="1070.5" y1="1227.06" x2="1079.3" y2="1227.06"/>
<line class="k" x1="1062.3" y1="1167.73" x2="1079.3" y2="1167.73"/>
<text class="t" transform="translate(1050.7 1179.43) skewX(0.1) scale(1 1.0405)" x="-45.6">60</text>
<line class="k" x1="1112.71" y1="1405.05" x2="1112.71" y2="1421.05"/>
<g transform="translate(1139.81 1438.6) rotate(-60) skewX(0.1) scale(1 1.0405)"><text class="x" x="-57.81" dx="1.24 -1.24 0">1-4</text><rect x="-54.33" y="-4.29" width="7.81" height="5.19" fill="#fff"/><rect x="-42.98" y="-4.29" width="7.5" height="5.19" fill="#fff"/></g>
<line class="k" x1="1179.74" y1="1405.05" x2="1179.74" y2="1421.05"/>
<text class="x" transform="translate(1206.84 1438.6) rotate(-60) skewX(0.1) scale(1 1.0405)" x="-57.81">5-8</text>
<line class="k" x1="1246.77" y1="1405.05" x2="1246.77" y2="1421.05"/>
<g transform="translate(1273.87 1438.6) rotate(-60) skewX(0.1) scale(1 1.0405)"><text class="x" x="-102.3" dx="1.24 -1.24 0 1.24 -1.24">10-15</text><rect x="-98.82" y="-4.29" width="7.81" height="5.19" fill="#fff"/><rect x="-87.47" y="-4.29" width="7.5" height="5.19" fill="#fff"/><rect x="-41.01" y="-4.29" width="7.81" height="5.19" fill="#fff"/><rect x="-29.66" y="-4.29" width="7.5" height="5.19" fill="#fff"/></g>
<g transform="translate(1266.58 1158.2) rotate(-90) skewX(0.1) scale(1 1.0405)"><text class="l" x="-102.52" dx="0 0 0 1.4">HY-1</text><rect x="-21" y="-4.66" width="8.69" height="5.56" fill="#fff"/><rect x="-8.34" y="-4.66" width="8.34" height="5.56" fill="#fff"/></g>
</g>
<g>
<path class="bw" d="M1306.13 1405.05V1379.9H1356.3V1405.05"/>
<rect x="1306.13" y="1402.75" width="50.17" height="2.3" fill="#000"/>
<path class="bw" d="M1373.02 1405.05V1390.1H1423.19V1405.05"/>
<rect x="1373.02" y="1402.75" width="50.17" height="2.3" fill="#000"/>
<rect class="f" x="1297.77" y="1147.95" width="200.67" height="257.1"/>
<line class="k" x1="1331.21" y1="1405.05" x2="1331.21" y2="1421.05"/>
<g transform="translate(1358.31 1438.6) rotate(-60) skewX(0.1) scale(1 1.0405)"><text class="x" x="-57.81" dx="1.24 -1.24 0">1-4</text><rect x="-54.33" y="-4.29" width="7.81" height="5.19" fill="#fff"/><rect x="-42.98" y="-4.29" width="7.5" height="5.19" fill="#fff"/></g>
<line class="k" x1="1398.11" y1="1405.05" x2="1398.11" y2="1421.05"/>
<text class="x" transform="translate(1425.2 1438.6) rotate(-60) skewX(0.1) scale(1 1.0405)" x="-57.81">5-8</text>
<line class="k" x1="1465" y1="1405.05" x2="1465" y2="1421.05"/>
<g transform="translate(1492.1 1438.6) rotate(-60) skewX(0.1) scale(1 1.0405)"><text class="x" x="-102.3" dx="1.24 -1.24 0 1.24 -1.24">10-15</text><rect x="-98.82" y="-4.29" width="7.81" height="5.19" fill="#fff"/><rect x="-87.47" y="-4.29" width="7.5" height="5.19" fill="#fff"/><rect x="-41.01" y="-4.29" width="7.81" height="5.19" fill="#fff"/><rect x="-29.66" y="-4.29" width="7.5" height="5.19" fill="#fff"/></g>
<text class="l" transform="translate(1484.74 1158.2) rotate(-90) skewX(0.1) scale(1 1.0405)" x="-102.52">HY-2</text>
</g>
<g>
<path class="bg" d="M1591.3 1405.05V1404H1641.6V1405.05"/>
<path class="bg" d="M1658.37 1405.05V1400H1708.67V1405.05"/>
<rect x="1658.37" y="1402.75" width="50.3" height="2.3" fill="#000"/>
<rect class="f" x="1515.85" y="1147.95" width="201.2" height="257.1"/>
<line class="k" x1="1549.38" y1="1405.05" x2="1549.38" y2="1421.05"/>
<g transform="translate(1576.48 1438.6) rotate(-60) skewX(0.1) scale(1 1.0405)"><text class="x" x="-57.81" dx="1.24 -1.24 0">1-4</text><rect x="-54.33" y="-4.29" width="7.81" height="5.19" fill="#fff"/><rect x="-42.98" y="-4.29" width="7.5" height="5.19" fill="#fff"/></g>
<line class="k" x1="1616.45" y1="1405.05" x2="1616.45" y2="1421.05"/>
<text class="x" transform="translate(1643.55 1438.6) rotate(-60) skewX(0.1) scale(1 1.0405)" x="-57.81">5-8</text>
<line class="k" x1="1683.52" y1="1405.05" x2="1683.52" y2="1421.05"/>
<g transform="translate(1710.62 1438.6) rotate(-60) skewX(0.1) scale(1 1.0405)"><text class="x" x="-102.3" dx="1.24 -1.24 0 1.24 -1.24">10-15</text><rect x="-98.82" y="-4.29" width="7.81" height="5.19" fill="#fff"/><rect x="-87.47" y="-4.29" width="7.5" height="5.19" fill="#fff"/><rect x="-41.01" y="-4.29" width="7.81" height="5.19" fill="#fff"/><rect x="-29.66" y="-4.29" width="7.5" height="5.19" fill="#fff"/></g>
<text class="l" transform="translate(1558.95 1158.2) rotate(-90) skewX(0.1) scale(1 1.0405)" x="-107.51">HG-2</text>
</g>
<g>
<path class="bg" d="M1742.96 1405.05V1404H1793.15V1405.05"/>
<path class="bg" d="M1809.88 1405.05V1392.45H1860.07V1405.05"/>
<rect x="1809.88" y="1402.75" width="50.19" height="2.3" fill="#000"/>
<rect class="hl" x="1812.56" y="1395.12" width="44.84" height="7.12"/>
<path class="bg" d="M1876.8 1405.05V1366.2H1926.99V1405.05"/>
<rect x="1876.8" y="1402.75" width="50.19" height="2.3" fill="#000"/>
<rect class="hl" x="1879.47" y="1368.88" width="44.84" height="33.37"/>
<rect class="f" x="1734.6" y="1147.95" width="200.75" height="257.1"/>
<line class="k" x1="1768.06" y1="1405.05" x2="1768.06" y2="1421.05"/>
<g transform="translate(1795.16 1438.6) rotate(-60) skewX(0.1) scale(1 1.0405)"><text class="x" x="-57.81" dx="1.24 -1.24 0">1-4</text><rect x="-54.33" y="-4.29" width="7.81" height="5.19" fill="#fff"/><rect x="-42.98" y="-4.29" width="7.5" height="5.19" fill="#fff"/></g>
<line class="k" x1="1834.97" y1="1405.05" x2="1834.97" y2="1421.05"/>
<text class="x" transform="translate(1862.07 1438.6) rotate(-60) skewX(0.1) scale(1 1.0405)" x="-57.81">5-8</text>
<line class="k" x1="1901.89" y1="1405.05" x2="1901.89" y2="1421.05"/>
<g transform="translate(1928.99 1438.6) rotate(-60) skewX(0.1) scale(1 1.0405)"><text class="x" x="-102.3" dx="1.24 -1.24 0 1.24 -1.24">10-15</text><rect x="-98.82" y="-4.29" width="7.81" height="5.19" fill="#fff"/><rect x="-87.47" y="-4.29" width="7.5" height="5.19" fill="#fff"/><rect x="-41.01" y="-4.29" width="7.81" height="5.19" fill="#fff"/><rect x="-29.66" y="-4.29" width="7.5" height="5.19" fill="#fff"/></g>
<text class="l" transform="translate(1777.7 1158.2) rotate(-90) skewX(0.1) scale(1 1.0405)" x="-102.52">HY-3</text>
</g>
<text class="l" transform="translate(558 32.8) skewX(0.1) scale(1 1.0405)" x="-96.3">Live coral</text>
<text class="l" transform="translate(1508.4 32.9) skewX(0.1) scale(1 1.0405)" x="-117.56">Macroalgae</text>
<text class="l" transform="translate(1030.1 1573.3) skewX(0.1) scale(1 1.0405)" x="-100.02">Depth (m)</text>
<text class="l" transform="translate(34.1 734.8) rotate(-90) skewX(0.1) scale(0.99 1.0405)" x="-177.56">Benthic cover (%)</text>
</svg></body></html>
